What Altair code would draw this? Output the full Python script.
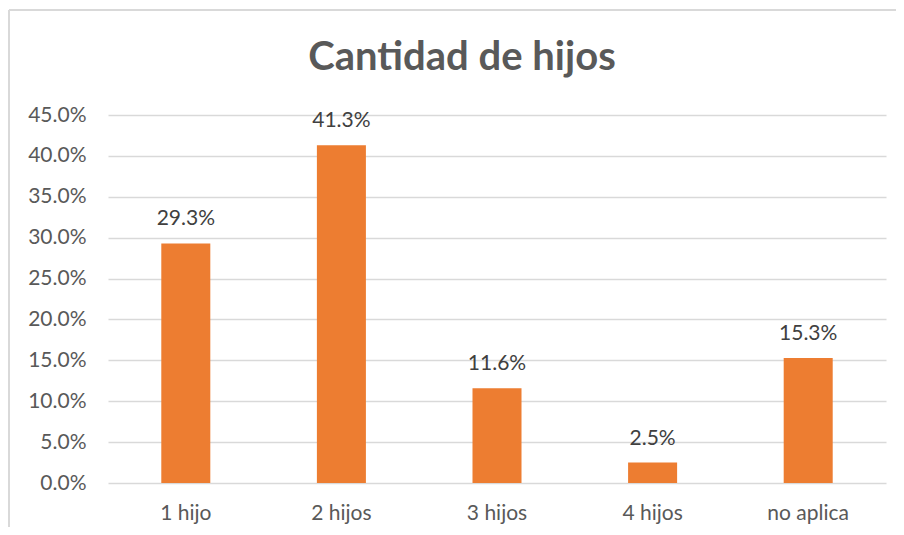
import altair as alt
import pandas as pd

categories = ["1 hijo", "2 hijos", "3 hijos", "4 hijos", "no aplica"]
values = [29.3, 41.3, 11.6, 2.5, 15.3]
labels = ["29.3%", "41.3%", "11.6%", "2.5%", "15.3%"]
title_text = "Cantidad de hijos"

df = pd.DataFrame({"cat": categories, "val": [v / 100 for v in values], "lab": labels})
tdf = pd.DataFrame({"t": [title_text]})

FONT = "Lato"
W, H = 778, 368

x = alt.X("cat:N", sort=categories, title=None,
          scale=alt.Scale(paddingInner=0.685, paddingOuter=0.3425),
          axis=alt.Axis(labelAngle=0, labelFontSize=21, labelColor="#595959", labelFont=FONT,
                        ticks=False, domain=False, labelPadding=19))
y = alt.Y("val:Q", title=None,
          scale=alt.Scale(domain=[0, 0.45], nice=False),
          axis=alt.Axis(format=".1%", values=[i * 0.05 for i in range(10)], labelFontSize=21,
                        labelColor="#595959", labelFont=FONT, ticks=False, domain=False,
                        labelPadding=22, gridColor="#d9d9d9", gridWidth=1.3))

bars = alt.Chart(df).mark_bar(color="#ED7D31").encode(x=x, y=y)
text = alt.Chart(df).mark_text(baseline="alphabetic", dy=-18, fontSize=21, color="#404040", font=FONT).encode(
    x=alt.X("cat:N", sort=categories), y="val:Q", text="lab:N")

title = alt.Chart(tdf).mark_text(fontSize=40, fontWeight="bold", color="#595959", font=FONT,
                                 align="center", baseline="alphabetic").encode(
    x=alt.value(462 - 108), y=alt.value(70 - 115), text="t:N")

border_left = alt.Chart(df).mark_rule(color="#d9d9d9", strokeWidth=1.5).encode(
    x=alt.value(-99), y=alt.value(-105), y2=alt.value(H + 60))
border_top = alt.Chart(df).mark_rule(color="#d9d9d9", strokeWidth=1.5).encode(
    x=alt.value(-99), x2=alt.value(W + 20), y=alt.value(-105))

chart = alt.layer(border_left, border_top, title, bars, text).properties(
    width=W, height=H,
    autosize=alt.AutoSizeParams(type="none"),
    padding={"left": 100, "top": 107, "right": 10, "bottom": 44},
).configure_view(stroke=None)

chart.save("out.html", embed_options={"renderer": "svg", "actions": False})
